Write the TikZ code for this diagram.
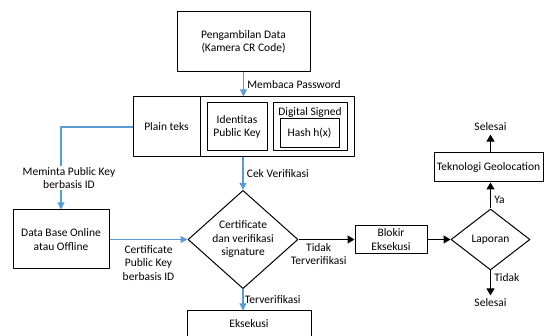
\documentclass[tikz,border=0pt]{standalone}
\usepackage{fontspec}
\setmainfont{Carlito}
\usetikzlibrary{arrows.meta,positioning,shapes.geometric}
\definecolor{biru}{RGB}{91,155,213}

\begin{document}
\begin{tikzpicture}[x=1pt,y=-1pt,line join=round,font=\fontsize{11.5}{13.5}\selectfont,
  kotak/.style={draw,line width=1pt,align=center,inner sep=0pt},
  belah/.style={diamond,draw,line width=1pt,align=center,inner sep=0pt},
  panahbiru/.style={draw=biru,line width=1.1pt,-{Triangle[length=7pt,width=7pt]},biru},
  panah/.style={draw=black,line width=1.1pt,-{Triangle[length=7pt,width=8pt]}}]
\path[use as bounding box,clip] (0,0) rectangle (547,336);
% kotak-kotak
\node[kotak,minimum width=133,minimum height=60] (data) at (243.5,42) {Pengambilan Data\\(Kamera CR Code)};
\node[kotak,minimum width=67,minimum height=60] (plain) at (166.5,127) {Plain teks};
\node[kotak,minimum width=154,minimum height=60] (kanan) at (277,127) {};
\node[kotak,minimum width=60,minimum height=48] (ident) at (237,127) {Identitas\\Public Key};
\node[kotak,minimum width=74,minimum height=48] (digital) at (310,127) {};
\node (judul) at (310,112.5) {Digital Signed};
\node[kotak,minimum width=59,minimum height=29] (hash) at (309.5,133.5) {Hash h(x)};
\node[belah,minimum width=110,minimum height=95] (cek) at (243,239.5) {Certificate\\dan verifikasi\\signature};
\node[kotak,minimum width=96,minimum height=59] (db) at (61,239.5) {Data Base Online\\atau Offline};
\node[kotak,minimum width=124,minimum height=40] (eksekusi) at (249,331) {};
\node (teks eksekusi) at (249,324) {Eksekusi};
\node[kotak,minimum width=72,minimum height=28] (blokir) at (391,239.5) {Blokir\\Eksekusi};
\node[belah,minimum width=79,minimum height=61] (laporan) at (490.5,239.5) {Laporan};
\node[kotak,minimum width=109,minimum height=29] (geo) at (488.5,167.5) {Teknologi Geolocation};
\node (selesai atas) at (490.5,127) {Selesai};
\node (selesai bawah) at (490.5,303) {Selesai};
% panah biru
\draw[panahbiru] (data.south) -- (data.south |- kanan.north) node[midway,right,text=black] {Membaca Password};
\draw[panahbiru] (cek.north |- kanan.south) -- (cek.north) node[midway,right,text=black] {Cek Verifikasi};
\draw[panahbiru] (plain.west) -| (db.north) node[pos=0.81,fill=white,xshift=8pt,text=black,align=center,inner sep=1pt] {Meminta Public Key\\berbasis ID};
\draw[panahbiru] (db.east) -- (cek.west) node[midway,below=2pt,text=black,align=center] {Certificate\\Public Key\\berbasis ID};
\draw[panahbiru] (cek.south) -- (cek.south |- eksekusi.north) node[midway,right,text=black,xshift=-2pt] {Terverifikasi};
% panah hitam
\draw[panah] (cek.east) -- (blokir.west) node[pos=0.36,below,align=center] {Tidak\\Terverifikasi};
\draw[panah] (blokir.east) -- (laporan.west);
\draw[panah] (laporan.north) -- (laporan.north |- geo.south) node[pos=0.35,right] {Ya};
\draw[panah] (geo.north -| laporan.north) -- (selesai atas.south);
\draw[panah] (laporan.south) -- (selesai bawah.north) node[pos=0.3,right] {Tidak};
\end{tikzpicture}
\end{document}
